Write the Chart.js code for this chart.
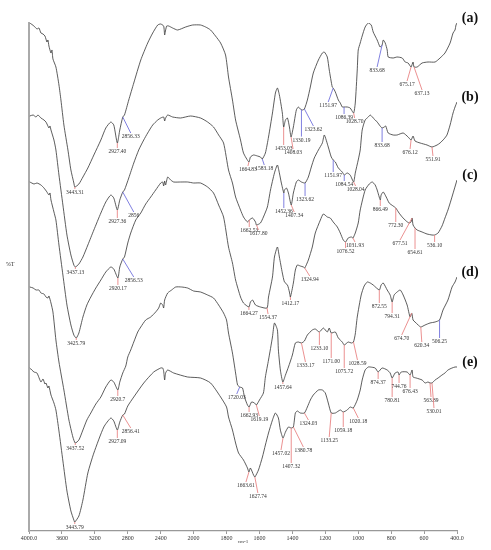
<!DOCTYPE html>
<html>
<head>
<meta charset="utf-8">
<script src="https://cdn.jsdelivr.net/npm/chart.js@4.4.0/dist/chart.umd.min.js"></script>
<style>
  html, body { margin: 0; padding: 0; background: #fff; }
  #wrap { width: 491px; height: 550px; }
</style>
</head>
<body>
<div id="wrap"><canvas id="chart" width="491" height="550"></canvas></div>
<script>
// tick labels of the wavenumber axis (scale halves below 2000)
const xTicks = ['4000.0','3600','3200','2800','2400','2000','1800','1600','1400','1200','1000','800','600','400.0']
const seriesNames = ['(a)','(b)','(c)','(d)','(e)']

// [wavenumber cm-1, %T (arbitrary offset units)]
const specA = [[3990,508],[3940,505],[3903,502],[3879,503],[3855,498],[3830,497],[3806,495],[3782,489],[3770,491],[3758,485],[3733,478],[3721,481],[3709,472],[3673,464],[3636,446],[3612,431],[3576,406],[3527,381],[3491,361],[3455,348],[3443,344],[3394,347],[3345,354],[3285,363],[3212,376],[3127,391],[3067,403],[3006,409],[2970,406],[2927,388],[2897,401],[2861,414],[2840,416],[2788,431],[2727,448],[2642,471],[2558,488],[2497,498],[2436,506],[2400,507],[2364,505],[2352,496],[2340,501],[2327,505],[2303,505],[2255,503],[2194,501],[2097,504],[2012,506],[1958,506],[1927,504],[1897,501],[1867,495],[1836,488],[1806,476],[1788,454],[1764,431],[1745,411],[1715,391],[1697,378],[1664,369],[1655,374],[1636,376],[1612,375],[1594,374],[1583,372],[1564,378],[1545,394],[1521,418],[1503,438],[1491,443],[1479,436],[1461,418],[1453,404],[1442,411],[1430,413],[1418,404],[1408,394],[1394,404],[1376,421],[1364,424],[1352,422],[1340,421],[1327,422],[1309,431],[1291,444],[1273,458],[1242,471],[1218,478],[1206,479],[1188,474],[1176,461],[1158,444],[1152,443],[1139,439],[1121,431],[1109,428],[1097,424],[1086,424],[1067,424],[1049,423],[1028,418],[1018,428],[1006,461],[1000,481],[988,488],[976,495],[958,504],[939,508],[921,506],[909,499],[885,491],[867,484],[855,486],[848,491],[836,488],[824,481],[818,474],[788,473],[764,474],[733,473],[715,469],[697,468],[679,464],[667,469],[661,464],[642,464],[612,468],[576,469],[533,469],[503,473],[473,478],[442,488],[424,498],[412,501],[406,506],[400,508]]

const specB = [[3990,415],[3950,416],[3915,414],[3891,416],[3855,413],[3818,411],[3794,409],[3770,405],[3758,403],[3745,405],[3733,401],[3697,391],[3673,381],[3636,356],[3588,326],[3539,296],[3491,276],[3455,266],[3437,264],[3394,267],[3345,274],[3285,286],[3212,301],[3127,318],[3067,329],[3006,336],[2970,333],[2927,321],[2897,331],[2861,339],[2840,341],[2788,353],[2727,368],[2667,381],[2606,391],[2558,398],[2497,406],[2436,411],[2400,413],[2364,414],[2352,410],[2340,413],[2315,416],[2255,414],[2158,413],[2036,415],[1958,413],[1915,409],[1879,404],[1848,396],[1818,388],[1788,361],[1764,348],[1745,334],[1715,321],[1697,314],[1673,309],[1662,311],[1642,313],[1624,309],[1618,306],[1594,308],[1576,314],[1552,324],[1533,341],[1509,358],[1491,366],[1479,358],[1467,348],[1452,338],[1448,341],[1436,343],[1424,338],[1407,326],[1394,338],[1376,349],[1364,351],[1345,349],[1323,348],[1303,354],[1285,364],[1267,373],[1242,381],[1218,388],[1206,396],[1182,384],[1164,374],[1152,371],[1139,369],[1121,363],[1097,359],[1085,356],[1067,358],[1049,356],[1028,349],[1018,358],[1000,371],[988,381],[976,401],[958,411],[939,414],[927,416],[909,413],[885,409],[867,405],[855,403],[842,404],[833,405],[818,398],[788,396],[764,396],[727,398],[697,394],[679,391],[667,395],[655,390],[624,388],[582,386],[552,384],[521,386],[503,388],[479,392],[461,396],[442,406],[424,418],[412,424],[400,429]]

const specC = [[3990,349],[3939,347],[3903,348],[3855,346],[3818,343],[3782,339],[3758,336],[3745,338],[3733,331],[3697,319],[3673,311],[3636,286],[3588,256],[3539,226],[3491,206],[3455,196],[3426,193],[3394,198],[3345,214],[3297,226],[3249,234],[3188,243],[3127,251],[3067,259],[3006,264],[2970,262],[2920,253],[2897,264],[2861,272],[2840,274],[2800,288],[2764,298],[2703,311],[2642,318],[2582,327],[2521,334],[2461,341],[2400,348],[2376,349],[2364,345],[2352,350],[2340,346],[2315,354],[2279,351],[2242,349],[2158,349],[2073,349],[2000,348],[1958,348],[1915,344],[1879,338],[1848,326],[1818,314],[1788,284],[1764,268],[1745,251],[1715,234],[1697,228],[1664,224],[1655,229],[1642,231],[1624,226],[1594,224],[1554,223],[1545,234],[1521,254],[1509,274],[1491,284],[1479,274],[1461,258],[1448,249],[1430,246],[1418,239],[1412,234],[1394,248],[1382,261],[1370,266],[1352,265],[1333,264],[1325,263],[1303,271],[1279,284],[1261,298],[1230,311],[1212,317],[1188,314],[1170,313],[1152,309],[1127,304],[1109,298],[1091,291],[1077,289],[1061,293],[1042,294],[1032,293],[1018,298],[1000,308],[988,321],[958,341],[933,347],[915,349],[897,346],[885,341],[866,331],[861,336],[848,339],[830,334],[812,328],[788,325],[772,323],[752,318],[733,314],[709,310],[691,308],[679,309],[673,313],[667,306],[655,303],[642,301],[612,299],[582,297],[552,296],[536,296],[515,298],[491,305],[473,313],[455,321],[436,331],[418,341],[400,351]]

const specD = [[3990,244],[3950,243],[3915,241],[3879,241],[3855,238],[3818,237],[3794,234],[3770,233],[3758,235],[3733,228],[3709,219],[3673,191],[3636,169],[3576,141],[3515,111],[3467,94],[3438,88],[3394,91],[3345,101],[3297,111],[3249,118],[3188,127],[3127,134],[3067,144],[3006,151],[2970,149],[2921,141],[2897,149],[2861,158],[2824,165],[2800,174],[2764,181],[2727,189],[2679,199],[2642,204],[2582,211],[2521,214],[2461,219],[2424,223],[2400,228],[2376,226],[2364,223],[2352,231],[2315,238],[2267,241],[2218,244],[2146,244],[2073,243],[2000,240],[1958,239],[1915,236],[1879,233],[1848,226],[1818,218],[1800,211],[1788,198],[1764,178],[1745,158],[1733,146],[1720,144],[1703,143],[1691,134],[1673,126],[1663,124],[1648,129],[1630,128],[1619,126],[1600,131],[1576,138],[1564,154],[1545,171],[1521,194],[1509,208],[1491,201],[1485,181],[1473,161],[1458,149],[1442,156],[1424,164],[1400,176],[1382,188],[1364,189],[1345,188],[1327,190],[1309,196],[1279,201],[1261,202],[1236,199],[1212,203],[1188,199],[1176,203],[1164,198],[1139,199],[1121,193],[1097,189],[1085,186],[1061,189],[1042,188],[1029,189],[1018,197],[1006,214],[982,236],[964,245],[945,249],[927,248],[909,246],[872,241],[861,246],[848,248],[824,241],[806,236],[794,229],[782,236],[764,239],[745,241],[727,236],[703,226],[685,214],[675,218],[667,211],[655,209],[636,206],[620,204],[594,206],[564,208],[533,209],[506,211],[485,221],[455,231],[430,244],[412,249],[400,254]]

const specE = [[3990,163],[3939,159],[3903,158],[3855,149],[3830,152],[3806,147],[3794,148],[3770,143],[3758,145],[3733,136],[3697,128],[3673,121],[3636,100],[3588,70],[3539,40],[3491,20],[3455,11],[3444,9],[3394,15],[3345,31],[3285,58],[3212,78],[3091,104],[3006,113],[2970,110],[2927,101],[2897,109],[2861,116],[2840,117],[2800,125],[2727,134],[2606,148],[2485,159],[2400,163],[2376,163],[2364,160],[2352,151],[2340,158],[2315,161],[2242,158],[2073,154],[1958,153],[1897,148],[1836,134],[1800,124],[1788,114],[1764,101],[1745,88],[1727,78],[1697,71],[1673,63],[1664,59],[1655,63],[1636,56],[1628,54],[1606,61],[1582,74],[1564,86],[1545,98],[1521,111],[1503,118],[1485,113],[1473,101],[1457,93],[1442,99],[1424,104],[1407,103],[1394,104],[1382,118],[1370,120],[1352,118],[1327,118],[1309,124],[1291,131],[1273,136],[1242,141],[1218,141],[1200,138],[1182,128],[1164,118],[1139,118],[1109,121],[1091,119],[1067,121],[1049,124],[1030,123],[1006,131],[988,141],[976,151],[958,161],[939,164],[927,164],[897,163],[879,159],[855,163],[824,161],[806,158],[794,153],[776,158],[758,159],[752,156],[739,159],[703,159],[685,156],[673,161],[667,154],[648,153],[612,151],[594,148],[576,149],[564,148],[552,148],[533,151],[515,153],[491,156],[473,158],[455,161],[430,163],[412,164],[400,164]]

// marked bands: [position cm-1, printed label]
const peaksA = [[3443,'3443.31'],[2927,'2927.40'],[2861,'2856.33'],[1664,'1664.83'],[1583,'1583.18'],[1453,'1453.03'],[1408,'1408.03'],[1345,'1330.19'],[1327,'1323.62'],[1152,'1151.97'],[1086,'1086.39'],[1028,'1028.70'],[855,'833.68'],[679,'675.17'],[661,'637.13']]
const peaksB = [[3437,'3437.13'],[2927,'2927.36'],[2861,'2856'],[1662,'1662.53'],[1618,'1617.80'],[1452,'1452.36'],[1407,'1407.34'],[1323,'1323.62'],[1152,'1151.97'],[1085,'1084.54'],[1028,'1028.04'],[855,'833.68'],[679,'676.12'],[552,'551.91']]
const peaksC = [[3426,'3425.79'],[2920,'2920.17'],[2861,'2856.53'],[1664,'1664.27'],[1554,'1554.37'],[1412,'1412.17'],[1325,'1324.94'],[1077,'1076.52'],[1032,'1031.93'],[866,'866.49'],[772,'772.30'],[673,'677.51'],[655,'654.61'],[536,'536.10']]
const peaksD = [[3438,'3437.52'],[2921,'2920.7'],[1720,'1720.03'],[1663,'1662.93'],[1619,'1619.19'],[1458,'1457.64'],[1345,'1333.17'],[1236,'1233.10'],[1164,'1171.00'],[1085,'1075.72'],[1029,'1028.59'],[872,'872.55'],[794,'794.31'],[675,'674.70'],[620,'620.34'],[506,'506.25']]
const peaksE = [[3444,'3443.79'],[2927,'2927.09'],[2861,'2856.41'],[1664,'1663.61'],[1628,'1627.74'],[1457,'1457.02'],[1407,'1407.32'],[1394,'1380.78'],[1327,'1324.03'],[1164,'1133.25'],[1091,'1059.18'],[1030,'1020.18'],[879,'874.37'],[794,'780.81'],[752,'744.76'],[685,'676.43'],[564,'563.89'],[552,'530.01']]

// leader lines for the labels above: [dx px, dy px, colour]
const R = '#e98585', B = '#7272dc'
const leadA = [[0,2,R],[0,5,R],[8,16,B],[-1,4,R],[2,6,B],[0,18,R],[2,12,R],[0,27,B],[9,17,B],[-5,14,B],[0,7,B],[1,5,R],[-5,22,B],[-4,14,R],[8,23,R]]
const leadB = [[0,2,R],[0,8,R],[11,20,B],[0,7,R],[2,5,R],[0,15,B],[3,7,R],[0,13,B],[0,12,B],[0,6,B],[2,4,R],[0,14,B],[-1,9,R],[1,9,R]]
const leadC = [[0,2,R],[0,7,R],[11,18,B],[0,3,R],[1,6,R],[0,3,R],[5,8,R],[0,6,R],[2,4,R],[0,6,R],[0,14,R],[-12,22,R],[0,21,R],[0,7,R]]
const leadD = [[0,2,R],[0,6,R],[-3,7,B],[0,5,R],[3,11,R],[0,2,R],[4,19,R],[0,13,R],[0,25,R],[0,23,R],[4,18,R],[0,13,R],[0,11,R],[-10,22,R],[1,15,R],[0,18,B]]
const leadE = [[0,2,R],[0,8,R],[8,13,R],[-3,10,R],[3,16,R],[-2,12,R],[0,35,R],[10,20,R],[4,7,R],[-2,24,R],[0,15,R],[5,10,R],[0,7,R],[0,19,R],[0,8,R],[0,13,R],[1,14,R],[2,25,R]]

const specs = [specA, specB, specC, specD, specE]
const peaks = [peaksA, peaksB, peaksC, peaksD, peaksE]
const leads = [leadA, leadB, leadC, leadD, leadE]

// axis position: 400 cm-1 per step above 2000, 200 per step below
function axisPos(w){
    return w >= 2000 ? (4000 - w) / 400 : 5 + (2000 - w) / 200
}

function valueAt(spec, w){
    for (let i = 0; i < spec.length - 1; i++) {
        const a = spec[i], b = spec[i+1]
        if (w <= a[0] && w >= b[0]) {
            const t = (a[0] - w) / (a[0] - b[0])
            return a[1] + t * (b[1] - a[1])
        }
    }
    return spec[spec.length-1][1]
}

const SERIF = '"Liberation Serif", "DejaVu Serif", serif'

const decorations = {
    id: 'decorations',
    beforeDraw(chart){
        const c = chart.ctx
        c.save()
        c.fillStyle = '#fff'
        c.fillRect(0, 0, chart.width, chart.height)
        c.restore()
    },
    afterDatasetsDraw(chart){
        const c = chart.ctx
        const xs = chart.scales.x, ys = chart.scales.y
        c.save()
        c.lineWidth = 0.9
        c.font = '5.5px ' + SERIF
        c.textAlign = 'center'
        c.textBaseline = 'top'
        specs.forEach((spec, s) => {
            peaks[s].forEach((p, i) => {
                const [dx, dy, col] = leads[s][i]
                const x = xs.getPixelForValue(axisPos(p[0]))
                const y = ys.getPixelForValue(valueAt(spec, p[0]))
                c.strokeStyle = col
                c.beginPath()
                c.moveTo(x, y)
                c.lineTo(x + dx, y + dy)
                c.stroke()
                c.fillStyle = '#333'
                c.fillText(p[1], x + dx, y + dy + 1)
            })
        })
        // series letters at the right end of each trace
        c.font = 'bold 14px ' + SERIF
        c.fillStyle = '#111'
        c.textBaseline = 'middle'
        specs.forEach((spec, s) => {
            const last = spec[spec.length-1]
            c.fillText(seriesNames[s], chart.chartArea.right + 13, ys.getPixelForValue(last[1]) - 5)
        })
        c.font = '6px ' + SERIF
        c.fillStyle = '#333'
        c.fillText('%T', 10, (chart.chartArea.top + chart.chartArea.bottom) / 2 - 13)
        c.font = '5px ' + SERIF
        c.fillText('cm-1', (chart.chartArea.left + chart.chartArea.right) / 2, chart.chartArea.bottom + 11)
        c.restore()
    }
}

const ctx = document.getElementById('chart').getContext('2d')
const myChart = new Chart(ctx, {
    type: 'scatter',
    data: {
        datasets: specs.map((spec, s) => ({
            label: seriesNames[s],
            data: spec.map(p => ({ x: axisPos(p[0]), y: p[1] })),
            showLine: true,
            borderColor: '#333',
            borderWidth: 0.8,
            pointRadius: 0,
            tension: 0.2,
            fill: false
        }))
    },
    options: {
        responsive: false,
        animation: false,
        layout: { padding: { top: 23, right: 34, left: 0, bottom: 0 } },
        plugins: { legend: { display: false }, tooltip: { enabled: false } },
        scales: {
            x: {
                type: 'linear',
                min: 0,
                max: 13,
                afterFit: s => { s.height = 19 },
                ticks: {
                    stepSize: 1,
                    autoSkip: false,
                    maxRotation: 0,
                    padding: 1,
                    color: '#333',
                    font: { size: 6, family: SERIF },
                    callback: v => xTicks[v]
                },
                grid: { drawOnChartArea: false, tickLength: 3, color: '#999' },
                border: { color: '#999', width: 1.2 }
            },
            y: {
                min: 0,
                max: 508,
                afterFit: s => { s.width = 29 },
                ticks: { display: false },
                grid: { display: false },
                border: { color: '#aaa', width: 2 }
            }
        }
    },
    plugins: [decorations]
})
</script>
</body>
</html>
